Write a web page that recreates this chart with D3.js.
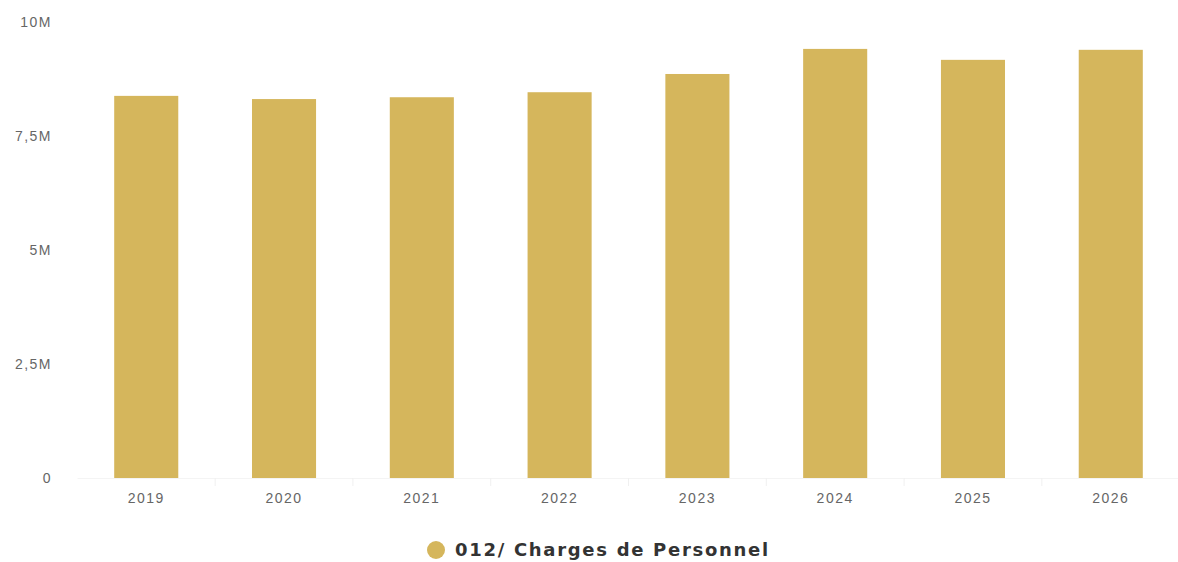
<!DOCTYPE html>
<html>
<head>
<meta charset="utf-8">
<script src="https://cdn.jsdelivr.net/npm/d3@7"></script>
<style>
  body { margin: 0; background: #fff; }
  svg { display: block; font-family: "DejaVu Sans", sans-serif; }
  .y-axis text, .x-axis text { fill: #666; font-size: 14px; letter-spacing: 1.5px; }
  .legend text { fill: #333; font-size: 18px; font-weight: bold; letter-spacing: 1.7px; }
</style>
</head>
<body>
<svg id="chart"></svg>
<script>
const years = ["2019", "2020", "2021", "2022", "2023", "2024", "2025", "2026"];
const charges = [8380000, 8310000, 8350000, 8460000, 8860000, 9410000, 9170000, 9390000];
const yTicks = [0, 2500000, 5000000, 7500000, 10000000];
const yTickLabels = ["0", "2,5M", "5M", "7,5M", "10M"];
const seriesName = "012/ Charges de Personnel";

const width = 1178, height = 562;
const margin = { top: 22, right: -2, bottom: 84, left: 77 };
const barColor = "#d5b65c";

const svg = d3.select("#chart").attr("width", width).attr("height", height);

const x = d3.scaleBand()
  .domain(years)
  .range([margin.left, width - margin.right])
  .paddingInner(0.535)
  .paddingOuter(0.27);

const y = d3.scaleLinear()
  .domain([0, 10000000])
  .range([height - margin.bottom, margin.top]);

// y axis labels only
const yAxis = svg.append("g")
  .attr("class", "y-axis")
  .attr("transform", "translate(55,0)")
  .call(d3.axisLeft(y).tickValues(yTicks).tickSize(0)
    .tickFormat((d, i) => yTickLabels[i]));
yAxis.select(".domain").remove();
yAxis.selectAll("text").attr("dy", "0.32em");

// bars
svg.append("g")
  .selectAll("rect")
  .data(years.map((yr, i) => ({ yr, v: charges[i] })))
  .join("rect")
  .attr("x", d => x(d.yr))
  .attr("y", d => y(d.v))
  .attr("width", x.bandwidth())
  .attr("height", d => y(0) - y(d.v))
  .attr("fill", barColor);

// x axis
const xAxis = svg.append("g")
  .attr("class", "x-axis")
  .attr("transform", `translate(0,${y(0)})`)
  .call(d3.axisBottom(x).tickSize(0).tickPadding(15));
xAxis.select(".domain").attr("stroke", "#f4f4f4");

// faint separators between categories
svg.append("g")
  .selectAll("line")
  .data(years.slice(1))
  .join("line")
  .attr("x1", d => x(d) - x.step() * x.paddingInner() / 2)
  .attr("x2", d => x(d) - x.step() * x.paddingInner() / 2)
  .attr("y1", y(0))
  .attr("y2", y(0) + 8)
  .attr("stroke", "#f0f0f0");

// legend
const legend = svg.append("g").attr("class", "legend")
  .attr("transform", `translate(436,${height - 12})`);
legend.append("circle").attr("r", 9).attr("fill", barColor);
legend.append("text").attr("x", 19).attr("dy", "0.35em").text(seriesName);
</script>
</body>
</html>
